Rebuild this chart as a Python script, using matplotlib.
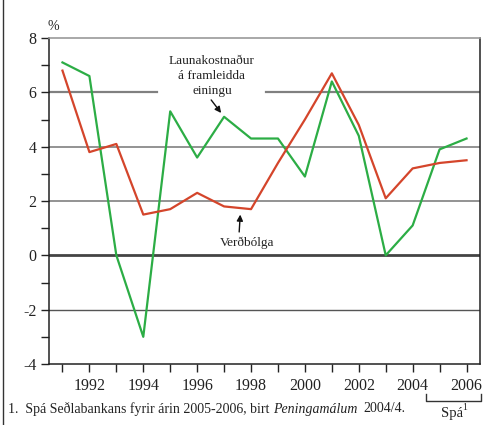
import matplotlib
matplotlib.use("Agg")
import matplotlib.pyplot as plt
from matplotlib.lines import Line2D

plt.rcParams['font.family'] = ['Liberation Serif', 'DejaVu Serif']

years = list(range(1991, 2007))
launakostnadur = [7.1, 6.6, 0.0, -3.0, 5.3, 3.6, 5.1, 4.3, 4.3, 2.9, 6.4, 4.4, 0.0, 1.1, 3.9, 4.3]
verdbolga = [6.8, 3.8, 4.1, 1.5, 1.7, 2.3, 1.8, 1.7, 3.4, 5.0, 6.7, 4.8, 2.1, 3.2, 3.4, 3.5]
ytick_vals = [-4, -2, 0, 2, 4, 6, 8]
xtick_labels = [1992, 1994, 1996, 1998, 2000, 2002, 2004, 2006]

green = '#2cad45'
red = '#d4452b'
gridc = '#808080'

fig = plt.figure(figsize=(5.02, 4.25), dpi=100)
W, H = 502, 425
ax = fig.add_axes([49 / W, 1 - 364 / H, (480 - 49) / W, (364 - 38) / H])

ax.set_xlim(1990.5, 2006.5)
ax.set_ylim(-4, 8)

# gridlines
ax.axhline(4, color=gridc, lw=1.2, zorder=1)
ax.axhline(2, color=gridc, lw=1.2, zorder=1)
ax.axhline(-2, color='#555555', lw=1.0, zorder=1)
ax.axhline(0, color='#444444', lw=2.0, zorder=1)
# gridline at 6 with gap for label
ax.plot([1990.5, 1994.5], [6, 6], color=gridc, lw=1.6, zorder=1)
ax.plot([1998.55, 2006.5], [6, 6], color=gridc, lw=1.6, zorder=1)

ax.plot(years, launakostnadur, color=green, lw=1.6, zorder=3)
ax.plot(years, verdbolga, color=red, lw=1.6, zorder=3)

for s in ['left', 'bottom', 'right']:
    ax.spines[s].set_color('#222222')
    ax.spines[s].set_linewidth(1.1)
ax.spines['top'].set_color('#999999')
ax.spines['top'].set_linewidth(1.2)

ax.set_yticks(ytick_vals)
ax.set_yticks([-3, -1, 1, 3, 5, 7], minor=True)
ax.set_yticklabels([str(v) for v in ytick_vals])
ax.set_xticks(years)
ax.set_xticklabels([str(y) if y in xtick_labels else '' for y in years])
ax.tick_params(axis='both', which='both', direction='out', length=6, width=1.0,
               color='#222222', labelsize=11.5, labelcolor='#222222')
ax.tick_params(axis='x', pad=4)
ax.tick_params(axis='y', pad=3)

# annotations
ax.text(1996.55, 6.6, 'Launakostnaður\ná framleidda\neiningu', ha='center', va='center',
        fontsize=9.5, color='#222222', linespacing=1.3)
ax.annotate('', xy=(1996.89, 5.24), xytext=(1996.52, 5.72),
            arrowprops=dict(arrowstyle='-|>', color='#111111', lw=1.0,
                            mutation_scale=9, shrinkA=0, shrinkB=0))
ax.text(1997.85, 0.45, 'Verðbólga', ha='center', va='center', fontsize=9.5, color='#222222')
ax.annotate('', xy=(1997.6, 1.5), xytext=(1997.56, 0.86),
            arrowprops=dict(arrowstyle='-|>', color='#111111', lw=1.0,
                            mutation_scale=9, shrinkA=0, shrinkB=0))

fig.text(48 / W, 1 - 26 / H, '%', ha='left', va='center', fontsize=10, color='#222222')

# figure border line at left
fig.add_artist(Line2D([3 / W, 3 / W], [0, 1], color='#333333', lw=1.0))

# footnote, pieces placed one after another
renderer = fig.canvas.get_renderer()
fy = 1 - 409 / H
fs = 10
t1 = fig.text(8 / W, fy, '1.  Spá Seðlabankans fyrir árin 2005-2006, birt ',
              ha='left', va='center', fontsize=fs, color='#222222')
bb = t1.get_window_extent(renderer)
t2 = fig.text(bb.x1 / W, fy, 'Peningamálum', ha='left', va='center', fontsize=fs,
              style='italic', color='#222222')
bb2 = t2.get_window_extent(renderer)
fig.text((bb2.x1 + 6) / W, fy, '2004/4.', ha='left', va='center', fontsize=fs, color='#222222')

# bracket for forecast
fig.add_artist(Line2D([426 / W, 426 / W, 481 / W, 481 / W],
                      [1 - 394 / H, 1 - 401 / H, 1 - 401 / H, 1 - 394 / H],
                      color='#333333', lw=1.0))
fig.text(452 / W, 1 - 413 / H, 'Spá', ha='center', va='center',
         fontsize=10.5, color='#222222')
fig.text(462 / W, 1 - 408 / H, '1', ha='left', va='center',
         fontsize=7, color='#222222')

fig.savefig('out.png', dpi=100)
